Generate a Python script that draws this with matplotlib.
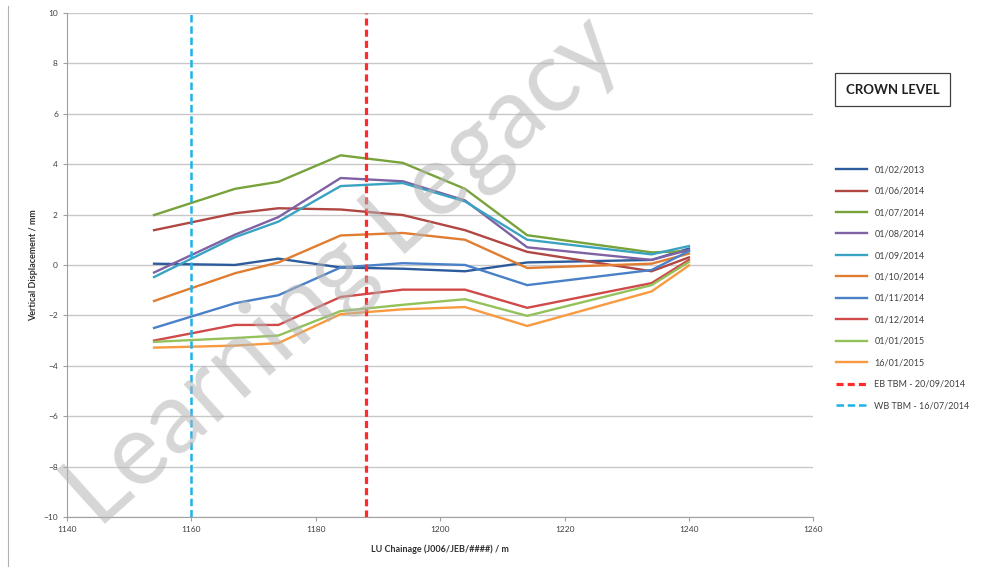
import numpy as np
import matplotlib
import matplotlib.pyplot as plt
from matplotlib.lines import Line2D

matplotlib.use('agg')

plt.rcParams['font.family'] = ['Lato', 'DejaVu Sans']

chainage = [1154, 1167, 1174, 1184, 1194, 1204, 1214, 1234, 1240]

dates = ["01/02/2013", "01/06/2014", "01/07/2014", "01/08/2014", "01/09/2014",
         "01/10/2014", "01/11/2014", "01/12/2014", "01/01/2015", "16/01/2015"]

s_0213 = [0.05, 0.0, 0.25, -0.1, -0.15, -0.25, 0.1, 0.2, 0.65]
s_0614 = [1.38, 2.05, 2.25, 2.2, 1.98, 1.38, 0.52, -0.25, 0.3]
s_0714 = [1.98, 3.02, 3.3, 4.35, 4.05, 3.02, 1.18, 0.5, 0.55]
s_0814 = [-0.3, 1.2, 1.9, 3.45, 3.32, 2.56, 0.7, 0.2, 0.6]
s_0914 = [-0.48, 1.1, 1.72, 3.13, 3.25, 2.52, 1.0, 0.42, 0.75]
s_1014 = [-1.43, -0.33, 0.1, 1.17, 1.27, 1.0, -0.12, 0.05, 0.45]
s_1114 = [-2.5, -1.52, -1.2, -0.1, 0.07, 0.0, -0.8, -0.2, 0.55]
s_1214 = [-3.0, -2.38, -2.38, -1.27, -0.98, -0.98, -1.7, -0.72, 0.2]
s_0115 = [-3.05, -2.9, -2.8, -1.83, -1.58, -1.36, -2.02, -0.8, 0.12]
s_1601 = [-3.28, -3.2, -3.1, -1.95, -1.76, -1.67, -2.42, -1.05, -0.02]

series = [s_0213, s_0614, s_0714, s_0814, s_0914, s_1014, s_1114, s_1214, s_0115, s_1601]
colours = ["#2d5c9c", "#b04742", "#78a33b", "#7e62a3", "#3ba3c2",
           "#e07d30", "#4a80c8", "#d04a4a", "#93c25a", "#f99a40"]

eb_tbm = 1188
wb_tbm = 1160

fig = plt.figure(figsize=[9.82, 5.67], dpi=100)
ax = fig.add_axes([0.0682, 0.0882, 0.760, 0.889])

for vals, c, lab in zip(series, colours, dates):
    ax.plot(chainage, vals, color=c, lw=1.7, label=lab, zorder=3)

ax.axvline(eb_tbm, color="#ff2a2a", lw=2.3, ls=(0, (2.2, 1.3)), label="EB TBM - 20/09/2014", zorder=4)
ax.axvline(wb_tbm, color="#1cb2ea", lw=1.8, ls=(0, (3, 1.5)), label="WB TBM - 16/07/2014", zorder=4)

ax.set_xlim(1140, 1260)
ax.set_ylim(-10, 10)
ax.set_xticks(np.arange(1140, 1261, 20))
ax.set_yticks(np.arange(-10, 11, 2))
ax.grid(axis='y', color="#c8c8c8", lw=1.0, zorder=0)
for s in ['top', 'right']:
    ax.spines[s].set_visible(False)
ax.spines['left'].set_color("#a0a0a0")
ax.spines['bottom'].set_color("#a0a0a0")
ax.tick_params(labelsize=6, colors="#404040", length=3, width=0.8)
ax.tick_params(axis='both', color="#a0a0a0")
ax.set_xlabel("LU Chainage (J006/JEB/####) / m", fontsize=6.5, fontweight='bold', color="#303030", labelpad=8)
ax.set_ylabel("Vertical Displacement / mm", fontsize=6.5, fontweight='bold', color="#303030", labelpad=4)

ax.legend(loc='upper left', bbox_to_anchor=(1.02, 0.714), frameon=False, fontsize=6.5,
          handlelength=3.4, labelspacing=1.38, labelcolor="#404040")

fig.text(0.909, 0.842, "CROWN LEVEL", fontsize=9.5, fontweight='bold', color="#202020",
         ha='center', va='center',
         bbox=dict(boxstyle='square,pad=0.8', fc='white', ec="#404040", lw=0.9))

fig.add_artist(Line2D([0.008, 0.008], [0.0, 0.99], color="#b0b0b0", lw=0.8))

fig.text(0.35, 0.52, "Learning Legacy", fontsize=72, color="#b4b4b4", alpha=0.55,
         rotation=42, ha='center', va='center', zorder=10)

plt.savefig("out.png")
plt.close()
